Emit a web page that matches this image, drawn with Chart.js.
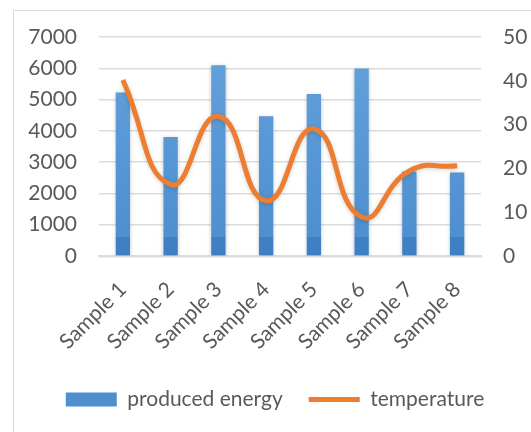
<!DOCTYPE html>
<html>
<head>
<meta charset="utf-8">
<script src="https://cdn.jsdelivr.net/npm/chart.js@4.4.1/dist/chart.umd.min.js"></script>
<style>
  html, body { margin: 0; padding: 0; background: #fff; }
  #wrap { position: relative; width: 531px; height: 432px; }
  #frame { position: absolute; left: 13px; top: 10px; right: 0; bottom: 0;
           border-left: 1px solid #d9d9d9; border-top: 1px solid #d9d9d9; }
  canvas { position: absolute; left: 0; top: 0; }
</style>
</head>
<body>
<div id="wrap">
  <div id="frame"></div>
  <canvas id="comboChart" width="531" height="432"></canvas>
</div>
<script>
const labels = ["Sample 1", "Sample 2", "Sample 3", "Sample 4", "Sample 5", "Sample 6", "Sample 7", "Sample 8"];
const producedEnergy = [5230, 3800, 6100, 4470, 5180, 5990, 2700, 2670];
const temperature = [40.2, 16.3, 31.9, 12.6, 29.0, 8.9, 19.4, 20.6];

const FONT = "Lato, 'Open Sans', sans-serif";
const GREY_TEXT = "#595959";
const GRID = "#dcdcdc";

// bar fill: light-to-dark gradient with a darker block at the base
function barFill(context) {
  const chart = context.chart;
  const area = chart.chartArea;
  if (!area) return "#5b9bd5";
  const yScale = chart.scales.y;
  const base = yScale.getPixelForValue(0);
  const stepY = yScale.getPixelForValue(600);
  const g = chart.ctx.createLinearGradient(0, area.top, 0, base);
  const s = Math.min(0.999, Math.max(0, (stepY - area.top) / (base - area.top)));
  g.addColorStop(0, "#65a2dc");
  g.addColorStop(s, "#4e8fd0");
  g.addColorStop(Math.min(1, s + 0.001), "#3f80c4");
  g.addColorStop(1, "#3f80c4");
  return g;
}

const shadowPlugin = {
  id: "shadow",
  beforeDatasetDraw(chart, args) {
    const ctx = chart.ctx;
    ctx.save();
    ctx.shadowColor = args.index === 0 ? "rgba(0,0,0,0.18)" : "rgba(0,0,0,0.22)";
    ctx.shadowBlur = 4;
    ctx.shadowOffsetY = 1;
  },
  afterDatasetDraw(chart) {
    chart.ctx.restore();
  }
};

const data = {
  labels: labels,
  datasets: [
    {
      type: "line",
      label: "temperature",
      data: temperature,
      yAxisID: "y1",
      borderColor: "#ed7d31",
      backgroundColor: "#ed7d31",
      borderWidth: 5,
      pointRadius: 0,
      tension: 0.5,
      order: 0
    },
    {
      type: "bar",
      label: "produced energy",
      data: producedEnergy,
      yAxisID: "y",
      backgroundColor: barFill,
      barPercentage: 0.3,
      categoryPercentage: 1,
      order: 1
    }
  ]
};

const config = {
  data: data,
  plugins: [shadowPlugin],
  options: {
    responsive: false,
    animation: false,
    layout: { padding: { left: 19, right: 0, top: 37, bottom: 12 } },
    scales: {
      x: {
        offset: true,
        grid: { display: false, drawTicks: false },
        border: { display: true, color: GRID, width: 2.5 },
        ticks: {
          color: GREY_TEXT,
          font: { family: FONT, size: 21 },
          minRotation: 45,
          maxRotation: 45,
          padding: 21
        },
        afterFit(scale) { scale.height = 107; }
      },
      y: {
        position: "left",
        min: 0,
        max: 7000,
        grid: { color: GRID, lineWidth: 1.5, drawTicks: false },
        border: { display: false },
        ticks: {
          stepSize: 1000,
          color: GREY_TEXT,
          font: { family: FONT, size: 21 },
          padding: 22,
          callback: (v) => String(v)
        },
        afterFit(scale) { scale.width = 80; }
      },
      y1: {
        position: "right",
        min: 0,
        max: 50,
        grid: { display: false, drawTicks: false },
        border: { display: false },
        ticks: {
          stepSize: 10,
          color: GREY_TEXT,
          font: { family: FONT, size: 21 },
          padding: 22,
          callback: (v) => String(v)
        },
        afterFit(scale) { scale.width = 50; }
      }
    },
    plugins: {
      legend: {
        position: "bottom",
        reverse: true,
        labels: {
          color: GREY_TEXT,
          font: { family: FONT, size: 21 },
          usePointStyle: true,
          pointStyleWidth: 51,
          boxHeight: 14,
          padding: 26,
          generateLabels(chart) {
            return chart.data.datasets.map((ds, i) => {
              const isLine = ds.type === "line";
              return {
                text: ds.label,
                datasetIndex: i,
                fontColor: GREY_TEXT,
                fillStyle: isLine ? "#ed7d31" : "#4f8fd0",
                strokeStyle: isLine ? "#ed7d31" : "#4f8fd0",
                lineWidth: isLine ? 5 : 0,
                pointStyle: isLine ? "line" : "rect",
                hidden: false
              };
            });
          }
        }
      },
      tooltip: { enabled: false }
    }
  }
};

new Chart(document.getElementById("comboChart"), config);
</script>
</body>
</html>
